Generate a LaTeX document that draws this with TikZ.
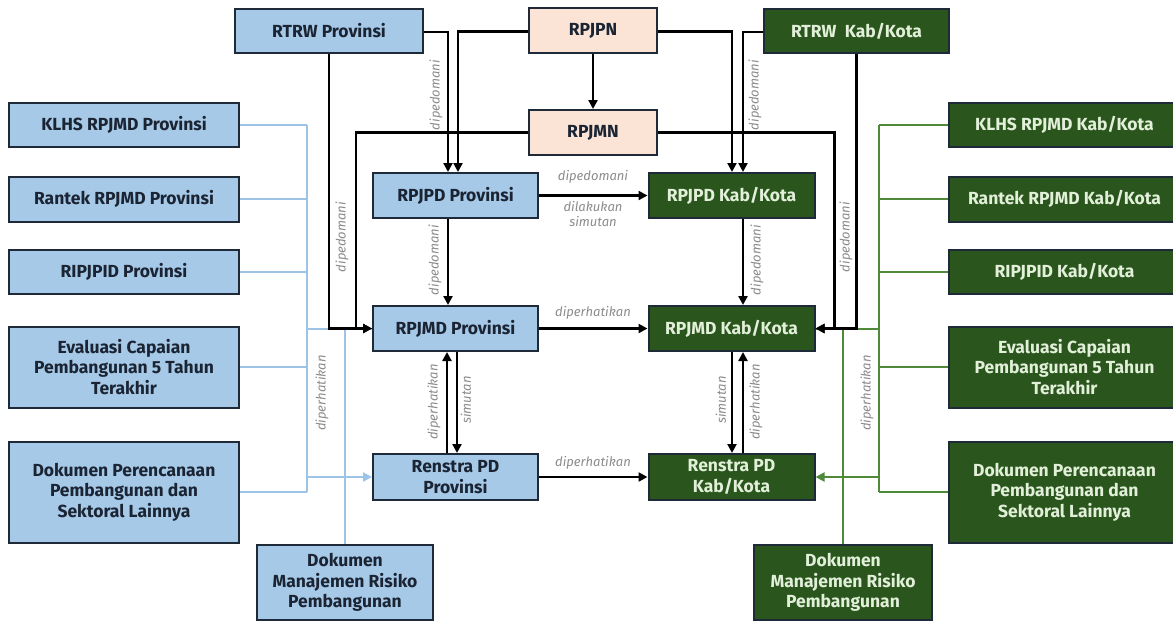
\documentclass[tikz,border=0pt]{standalone}
\usepackage{fontspec}
\setmainfont{Fira Sans}
\usetikzlibrary{arrows.meta}
\definecolor{bfill}{HTML}{A6C9E8}
\definecolor{gfill}{HTML}{2A561E}
\definecolor{pfill}{HTML}{FBE3D6}
\definecolor{bordc}{HTML}{1E2A38}
\definecolor{btext}{HTML}{1B2433}
\definecolor{gtext}{HTML}{E2EFD9}
\definecolor{lbline}{HTML}{9DC3E6}
\definecolor{lgline}{HTML}{4E8A3A}
\definecolor{lblc}{HTML}{8C8C8C}
\begin{document}
\begin{tikzpicture}[x=1pt,y=-1pt,
  boxbase/.style={rectangle, draw=bordc, line width=2pt, inner sep=0pt, align=center,
    font=\bfseries\fontsize{17.5}{20.5}\selectfont},
  bluebox/.style={boxbase, fill=bfill, text=btext},
  greenbox/.style={boxbase, fill=gfill, text=gtext},
  peachbox/.style={boxbase, fill=pfill, text=btext},
  arr/.style={line width=2.2pt, -{Triangle[length=9pt,width=9pt]}},
  bline/.style={draw=lbline, line width=2pt},
  gline/.style={draw=lgline, line width=2pt},
  barr/.style={bline, -{Triangle[length=9pt,width=9pt]}},
  garr/.style={gline, -{Triangle[length=9pt,width=9pt]}},
  lbl/.style={font=\itshape\fontsize{13}{14}\selectfont, text=lblc, inner sep=0pt},
  vlbl/.style={lbl, rotate=90}
]
\clip (0,0) rectangle (1173,622);
\fill[white] (0,0) rectangle (1173,622);

% top row
\node[bluebox, minimum width=188pt, minimum height=44pt] (rtrwP) at (329,31) {RTRW Provinsi};
\node[peachbox, minimum width=128pt, minimum height=45pt] (rpjpn) at (593,30.5) {RPJPN};
\node[greenbox, minimum width=185pt, minimum height=44pt] (rtrwK) at (856.5,31) {RTRW\ \ Kab/Kota};
\node[peachbox, minimum width=128pt, minimum height=45pt] (rpjmn) at (593,132.5) {RPJMN};

% center
\node[bluebox, minimum width=165pt, minimum height=45pt] (rpjpdP) at (455.5,195.5) {RPJPD Provinsi};
\node[greenbox, minimum width=166pt, minimum height=45pt] (rpjpdK) at (731.5,195.5) {RPJPD Kab/Kota};
\node[bluebox, minimum width=165pt, minimum height=45pt] (rpjmdP) at (455.5,328.5) {RPJMD Provinsi};
\node[greenbox, minimum width=166pt, minimum height=45pt] (rpjmdK) at (731.5,328.5) {RPJMD Kab/Kota};
\node[bluebox, minimum width=165pt, minimum height=46pt] (renP) at (455.5,477) {Renstra PD\\Provinsi};
\node[greenbox, minimum width=166pt, minimum height=46pt] (renK) at (731.5,477) {Renstra PD\\Kab/Kota};

% left column
\node[bluebox, minimum width=230pt, minimum height=44pt] (klhsP) at (124,125) {KLHS RPJMD Provinsi};
\node[bluebox, minimum width=230pt, minimum height=45pt] (rantekP) at (124,199) {Rantek RPJMD Provinsi};
\node[bluebox, minimum width=230pt, minimum height=44pt] (ripP) at (124,272) {RIPJPID Provinsi};
\node[bluebox, minimum width=230pt, minimum height=81pt] (evalP) at (124,367) {Evaluasi Capaian\\Pembangunan 5 Tahun\\Terakhir};
\node[bluebox, minimum width=230pt, minimum height=101pt] (dokP) at (124,492) {Dokumen Perencanaan\\Pembangunan dan\\Sektoral Lainnya};
\node[bluebox, minimum width=176pt, minimum height=75pt] (manP) at (345,582.5) {Dokumen\\Manajemen Risiko\\Pembangunan};

% right column
\node[greenbox, minimum width=231pt, minimum height=44pt] (klhsK) at (1064.5,125) {KLHS RPJMD Kab/Kota};
\node[greenbox, minimum width=231pt, minimum height=45pt] (rantekK) at (1064.5,199) {Rantek RPJMD Kab/Kota};
\node[greenbox, minimum width=231pt, minimum height=44pt] (ripK) at (1064.5,272) {RIPJPID Kab/Kota};
\node[greenbox, minimum width=231pt, minimum height=81pt] (evalK) at (1064.5,367) {Evaluasi Capaian\\Pembangunan 5 Tahun\\Terakhir};
\node[greenbox, minimum width=231pt, minimum height=101pt] (dokK) at (1064.5,492) {Dokumen Perencanaan\\Pembangunan dan\\Sektoral Lainnya};
\node[greenbox, minimum width=178pt, minimum height=75pt] (manK) at (843,582.5) {Dokumen\\Manajemen Risiko\\Pembangunan};

\coordinate (busL) at (307,0);
\coordinate (busR) at (879,0);

% light blue connectors
\draw[bline] (klhsP.east) -- (klhsP.east -| busL);
\draw[bline] (rantekP.east) -- (rantekP.east -| busL);
\draw[bline] (ripP.east) -- (ripP.east -| busL);
\draw[bline] (evalP.east) -- (evalP.east -| busL);
\draw[bline] (dokP.east) -- (dokP.east -| busL);
\draw[bline] (klhsP.east -| busL) -- (dokP.east -| busL);
\draw[bline] (busL |- rpjmdP.west) -- (rpjmdP.west);
\draw[barr] (busL |- renP.west) -- (renP.west);
\draw[bline] (manP.north) -- (manP.north |- rpjmdP.west);

% green connectors
\draw[gline] (klhsK.west) -- (klhsK.west -| busR);
\draw[gline] (rantekK.west) -- (rantekK.west -| busR);
\draw[gline] (ripK.west) -- (ripK.west -| busR);
\draw[gline] (evalK.west) -- (evalK.west -| busR);
\draw[gline] (dokK.west) -- (dokK.west -| busR);
\draw[gline] (klhsK.west -| busR) -- (dokK.west -| busR);
\draw[gline] (busR |- rpjmdK.east) -- (rpjmdK.east);
\draw[garr] (busR |- renK.east) -- (renK.east);
\draw[gline] (manK.north) -- (manK.north |- rpjmdK.east);

% black connectors
\draw[arr] ([yshift=-1pt]rtrwP.east) -| ([xshift=-7.5pt]rpjpdP.north);
\draw[arr] ([yshift=-1pt]rpjpn.west) -| ([xshift=2.5pt]rpjpdP.north);
\draw[arr] ([yshift=-1pt]rpjpn.east) -| ([xshift=0.5pt]rpjpdK.north);
\draw[arr] ([yshift=-1pt]rtrwK.west) -| ([xshift=11.5pt]rpjpdK.north);
\draw[arr] (rpjpn.south) -- (rpjmn.north);
\draw[arr] (rpjmn.west) -| ([xshift=-16pt]rpjmdP.west) -- (rpjmdP.west);
\draw[arr] (rpjmn.east) -| ([xshift=19pt]rpjmdK.east) -- (rpjmdK.east);
\draw[arr] (rtrwP.south) |- (rpjmdP.west);
\draw[arr] (rtrwK.south) |- (rpjmdK.east);
\draw[arr] (rpjpdP.east) -- (rpjpdK.west);
\draw[arr] (rpjmdP.east) -- (rpjmdK.west);
\draw[arr] (renP.east) -- (renK.west);
\draw[arr] ([xshift=-7.5pt]rpjpdP.south) -- ([xshift=-7.5pt]rpjmdP.north);
\draw[arr] ([xshift=11.5pt]rpjpdK.south) -- ([xshift=11.5pt]rpjmdK.north);
\draw[arr] ([xshift=-8.5pt]renP.north) -- ([xshift=-8.5pt]rpjmdP.south);
\draw[arr] ([xshift=1.5pt]rpjmdP.south) -- ([xshift=1.5pt]renP.north);
\draw[arr] ([xshift=0.5pt]rpjmdK.south) -- ([xshift=0.5pt]renK.north);
\draw[arr] ([xshift=11.5pt]renK.north) -- ([xshift=11.5pt]rpjmdK.south);

% labels
\node[vlbl] (l1) at (436,95) {dipedomani};
\node[vlbl] (l2) at (755,95) {dipedomani};
\node[vlbl] (l3) at (342,237) {dipedomani};
\node[vlbl] (l4) at (846,237) {dipedomani};
\node[lbl] (l5) at (593,177) {dipedomani};
\node[lbl, align=center, font=\itshape\fontsize{13}{15}\selectfont] (l6) at (593,214) {dilakukan\\simutan};
\node[vlbl] (l7) at (435,260) {dipedomani};
\node[vlbl] (l8) at (757,260) {dipedomani};
\node[lbl] (l9) at (593,313) {diperhatikan};
\node[lbl] (l10) at (593,463) {diperhatikan};
\node[vlbl] (l11) at (434,402) {diperhatikan};
\node[vlbl] (l12) at (466,400) {simutan};
\node[vlbl] (l13) at (721,400) {simutan};
\node[vlbl] (l14) at (756,402) {diperhatikan};
\node[vlbl] (l15) at (322,393) {diperhatikan};
\node[vlbl] (l16) at (867,393) {diperhatikan};
\end{tikzpicture}
\end{document}
